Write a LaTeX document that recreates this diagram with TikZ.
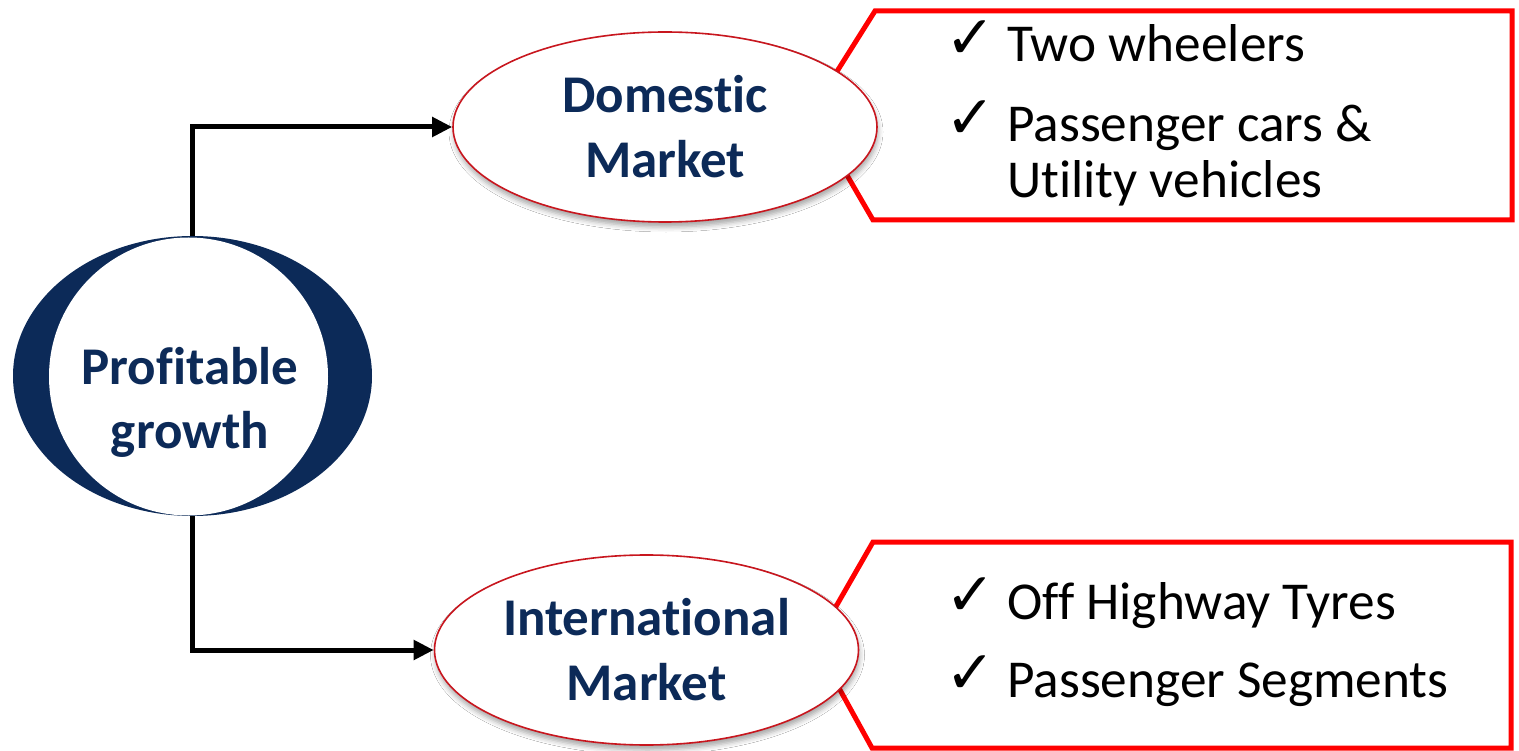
\documentclass[tikz,border=0pt]{standalone}
\usepackage{fontspec}
\setmainfont{Carlito}[Ligatures=NoCommon]
\newfontfamily\symfont{DejaVu Sans Bold}
\usetikzlibrary{shapes.geometric,arrows.meta,shadows.blur}
\definecolor{navy}{RGB}{12,42,88}
\definecolor{ellred}{RGB}{200,22,30}
\definecolor{boxred}{RGB}{255,0,0}
\begin{document}
\begin{tikzpicture}[x=1pt,y=-1pt,
  market/.style={ellipse, draw=ellred, line width=1.6pt, fill=white,
    minimum width=424pt, minimum height=190pt, inner sep=0pt,
    font=\fontsize{53}{65}\selectfont\bfseries, text=navy, align=center,
    blur shadow={shadow xshift=1pt, shadow yshift=-5pt, shadow blur radius=5pt, shadow opacity=35}},
  callout/.style={draw=boxred, line width=5pt, fill=white, line join=miter},
  link/.style={line width=5pt, -{Triangle[length=20pt,width=19pt]}},
  chk/.style={anchor=south west, inner sep=0pt, font=\symfont\fontsize{60}{60}\selectfont},
  item/.style={anchor=base west, inner sep=0pt, align=left, font=\fontsize{53.3}{56}\selectfont}
]
\useasboundingbox (0,0) rectangle (1519,751);
\fill[white] (0,0) rectangle (1519,751);

% callouts
\draw[callout] (875,11) -- (1512,11) -- (1512,220) -- (873,220) -- (819,127) -- (802,127) -- cycle;
\draw[callout] (873,542) -- (1511,542) -- (1511,748) -- (872,748) -- (818,650) -- (811,650) -- cycle;

% central ring
\node[ellipse, fill=navy, minimum width=359pt, minimum height=280pt, inner sep=0pt] (ring) at (192.5,376) {};
\fill[white] (188.5,376.5) ellipse [x radius=139.5, y radius=139];
\node[font=\fontsize{53}{64}\selectfont\bfseries, text=navy, align=center, inner sep=0pt] (pg) at (190,402) {Profitable\\growth};

% market ellipses
\node[market] (dom) at (665,127) {Domestic\\Market};
\node[market] (intl) at (646.5,650) {International\\Market};

% connectors
\draw[link] (ring.north) |- (dom.west);
\draw[link] (ring.south) |- (intl.west);

% items
\node[chk] (k1) at (945,59) {✓};
\node[item] (t1) at (1007,62) {Two wheelers};
\node[chk] (k2) at (945,139) {✓};
\node[item] (t2) at (1007,198) {Passenger cars \&\\Utility vehicles};
\node[chk] (k3) at (945,616) {✓};
\node[item] (t3) at (1007,619) {Off Highway Tyres};
\node[chk] (k4) at (945,694) {✓};
\node[item] (t4) at (1007,697) {Passenger Segments};
\end{tikzpicture}
\end{document}
